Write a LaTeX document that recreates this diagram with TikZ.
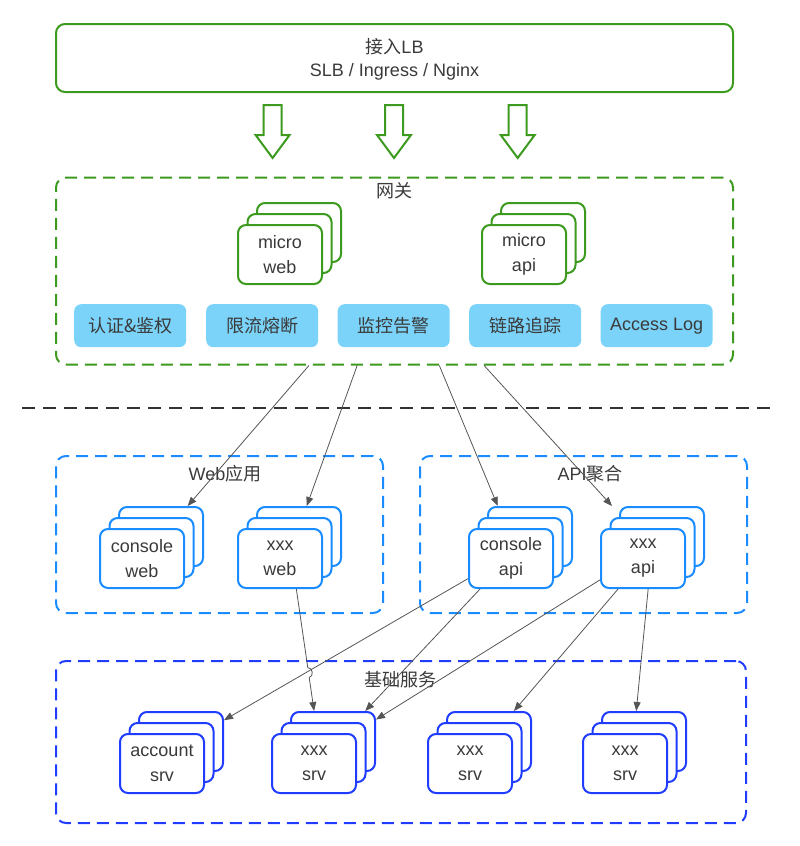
\documentclass[tikz,border=0pt]{standalone}
\usepackage{fontspec}
\setmainfont{Liberation Sans}
\newfontfamily\cjk{Noto Sans CJK SC}
\usetikzlibrary{arrows.meta,calc}

\definecolor{lbgreen}{HTML}{3C9A1E}
\definecolor{appblue}{HTML}{1A8CFF}
\definecolor{srvblue}{HTML}{1F3CFF}
\definecolor{featfill}{HTML}{7BD3F9}
\definecolor{txt}{HTML}{3A3A3A}
\definecolor{wire}{HTML}{555555}
\definecolor{rule}{HTML}{333333}

\tikzset{
  label text/.style={text=txt, font=\fontsize{18}{25}\selectfont, inner sep=0pt},
  card/.style={draw=#1, line width=2pt, fill=white, rounded corners=8pt,
    minimum width=84pt, minimum height=59pt, anchor=north west,
    align=center, inner sep=0pt, label text},
  group/.style={draw=#1, line width=2pt, dash pattern=on 12pt off 7pt,
    rounded corners=10pt, anchor=north west, inner sep=0pt},
  feature/.style={fill=featfill, rounded corners=7pt, minimum width=112pt,
    minimum height=43pt, anchor=north west, label text},
  link/.style={draw=wire, line width=0.8pt, -{Triangle[length=9pt,width=7pt]}},
  blockarrow/.style={draw=lbgreen, line width=2pt, fill=white, line join=miter},
  separator/.style={draw=rule, line width=1.5pt, dash pattern=on 13pt off 8pt},
}

% three stacked cards; #2,#3 = top-left corner of the front card
\newcommand\cardstack[5]{%
  \node[card=#4] (#1-b) at (#2+19,#3-22) {};
  \node[card=#4] (#1-m) at (#2+9.5,#3-11) {};
  \node[card=#4] (#1) at (#2,#3) {#5};
}

% hollow downward arrow centred on x=#1
\newcommand\hollowarrow[1]{%
  \draw[blockarrow] (#1-9,105) -- (#1+9,105) -- (#1+9,135) -- (#1+17,135)
    -- (#1,158) -- (#1-17,135) -- (#1-9,135) -- cycle;
}

\begin{document}
\begin{tikzpicture}[x=1pt,y=-1pt]
\useasboundingbox (0,0) rectangle (800,846);

% ---- entry load balancer ----
\node[draw=lbgreen, line width=2pt, rounded corners=9pt, minimum width=677pt,
  minimum height=68pt, anchor=north west] (lb) at (55,23) {};
\node[label text, align=center, font=\fontsize{18}{23}\selectfont]
  (lb-text) at ($(lb.center)+(0,1.5)$) {{\cjk 接入}LB\\SLB / Ingress / Nginx};

\hollowarrow{272.6}
\hollowarrow{394}
\hollowarrow{517.7}

% ---- gateway ----
\node[group=lbgreen, minimum width=677pt, minimum height=187pt] (gw) at (55,176.5) {};
\node[label text] (gw-title) at (394,191) {\cjk 网关};
\cardstack{mw}{237}{224}{lbgreen}{micro\\web}
\cardstack{ma}{481}{224}{lbgreen}{micro\\api}

\node[feature] (f1) at (74,304) {\cjk 认证\&鉴权};
\node[feature] (f2) at (206,304) {\cjk 限流熔断};
\node[feature] (f3) at (337.5,304) {\cjk 监控告警};
\node[feature] (f4) at (469,304) {\cjk 链路追踪};
\node[feature] (f5) at (600.5,304) {Access Log};

% ---- separator ----
\coordinate (sep-l) at (22,408);
\coordinate (sep-r) at (773,408);
\draw[separator] (sep-l) -- (sep-r);

% ---- web applications ----
\node[group=appblue, minimum width=327pt, minimum height=157pt] (web) at (55,455) {};
\node[label text] (web-title) at (225,474) {Web{\cjk 应用}};
\cardstack{cw}{99}{528}{appblue}{console\\web}
\cardstack{xw}{237}{528}{appblue}{xxx\\web}

% ---- API aggregation ----
\node[group=appblue, minimum width=327pt, minimum height=157pt] (api) at (419,455) {};
\node[label text] (api-title) at (590,474) {API{\cjk 聚合}};
\cardstack{ca}{468}{528}{appblue}{console\\api}
\cardstack{xa}{600}{528}{appblue}{xxx\\api}

% ---- base services ----
\node[group=srvblue, minimum width=690pt, minimum height=162pt] (base) at (55,660) {};
\node[label text] (base-title) at (400,680) {\cjk 基础服务};
\cardstack{as}{119}{733}{srvblue}{account\\srv}
\cardstack{s2}{271}{733}{srvblue}{xxx\\srv}
\cardstack{s3}{427}{733}{srvblue}{xxx\\srv}
\cardstack{s4}{582}{733}{srvblue}{xxx\\srv}

% ---- gateway to applications ----
\draw[link] ($(gw.south west)!0.374!(gw.south east)$) -- ($(cw-b.north west)!0.81!(cw-b.north east)$);
\draw[link] ($(gw.south west)!0.445!(gw.south east)$) -- ($(xw-b.north west)!0.59!(xw-b.north east)$);
\draw[link] ($(gw.south west)!0.566!(gw.south east)$) -- ($(ca-b.north west)!0.125!(ca-b.north east)$);
\draw[link] ($(gw.south west)!0.632!(gw.south east)$) -- ($(xa-b.north west)+(-7,0)$);

% ---- applications to services ----
\coordinate (xw-out) at ($(xw.south west)!0.69!(xw.south east)$);
\coordinate (s2-in1) at ($(s2-b.north west)!0.28!(s2-b.north east)$);
\draw[link] (xw-out) -- ($(xw-out)!0.645!(s2-in1)$)
  to[bend left=90, looseness=1.3] ($(xw-out)!0.725!(s2-in1)$) -- (s2-in1);

\draw[link] ($(ca.north west)!0.83!(ca.south west)$) -- ($(as-b.north east)!0.15!(as-b.south east)$);
\draw[link] ($(ca.south west)!0.14!(ca.south east)$) -- ($(s2-b.north west)!0.875!(s2-b.north east)$);
\draw[link] ($(xa.north west)!0.85!(xa.south west)$) -- ($(s2-b.north east)!0.14!(s2-b.south east)$);
\draw[link] ($(xa.south west)!0.21!(xa.south east)$) -- ($(s3-b.north west)!0.79!(s3-b.north east)$);
\draw[link] ($(xa.south west)!0.56!(xa.south east)$) -- ($(s4-b.north west)!0.41!(s4-b.north east)$);
\end{tikzpicture}
\end{document}
